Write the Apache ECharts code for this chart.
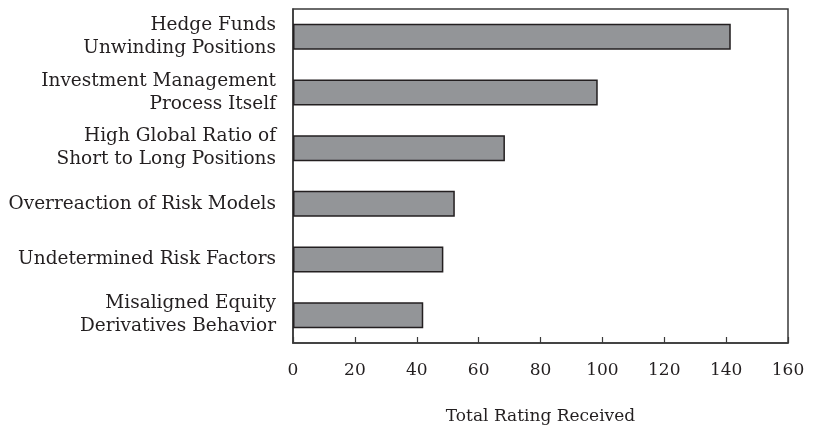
<!DOCTYPE html>
<html>
<head>
<meta charset="utf-8">
<script src="https://cdn.jsdelivr.net/npm/echarts@6/dist/echarts.min.js"></script>
<style>
  html, body { margin: 0; padding: 0; background: #fff; }
  #chart { width: 840px; height: 431px; }
</style>
</head>
<body>
<div id="chart"></div>
<script>
const categories = [
  "Hedge Funds\nUnwinding Positions",
  "Investment Management\nProcess Itself",
  "High Global Ratio of\nShort to Long Positions",
  "Overreaction of Risk Models",
  "Undetermined Risk Factors",
  "Misaligned Equity\nDerivatives Behavior",
];
const ratings = [141.5, 98.5, 68.5, 52.3, 48.6, 42.1];
const xTicks = [0, 20, 40, 60, 80, 100, 120, 140, 160];

const ink = "#231f20";
const font = "DejaVu Serif";

const myChart = echarts.init(document.getElementById("chart"));
const options = {
  animation: false,
  grid: {
    left: 293,
    right: 52,
    top: 9,
    bottom: 88,
    show: true,
    borderColor: "#3a3a3a",
    borderWidth: 1.5,
  },
  xAxis: {
    type: "value",
    min: xTicks[0],
    max: xTicks[xTicks.length - 1],
    interval: 20,
    name: "Total Rating Received",
    nameLocation: "middle",
    nameGap: 65,
    nameTextStyle: { color: ink, fontFamily: font, fontSize: 17 },
    axisLine: { show: true, lineStyle: { color: "#3a3a3a", width: 1.5 } },
    axisTick: { show: true, inside: true, length: 6, lineStyle: { color: "#3a3a3a", width: 1.2 } },
    axisLabel: { color: ink, fontFamily: font, fontSize: 17, margin: 19 },
    splitLine: { show: false },
  },
  yAxis: {
    type: "category",
    data: categories,
    inverse: true,
    axisLine: { show: true, lineStyle: { color: "#3a3a3a", width: 1.5 } },
    axisTick: { show: false },
    axisLabel: {
      color: ink,
      fontFamily: font,
      fontSize: 18.5,
      lineHeight: 23,
      margin: 17,
      align: "right",
    },
  },
  series: [
    {
      type: "bar",
      data: ratings,
      barWidth: 26,
      itemStyle: { color: "#939598", borderColor: ink, borderWidth: 1.5 },
    },
  ],
};
myChart.setOption(options);
</script>
</body>
</html>
